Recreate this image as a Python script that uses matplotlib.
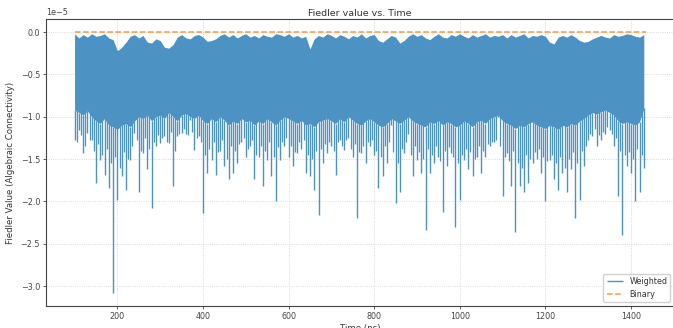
import numpy as np
from matplotlib import pyplot as plt

# Data (Fiedler values, in units of 1e-5) -----------------------------------------------------------------------------

time_ns = np.arange(100, 1440, 10)

# upper edge of the dense band
weighted_top = [
    -0.02, -0.07, -0.03, -0.06, -0.02, -0.05, -0.04, -0.02, -0.07, -0.09,
    -0.22, -0.18, -0.12, -0.05, -0.03, -0.07, -0.04, -0.12, -0.13, -0.08,
    -0.10, -0.18, -0.19, -0.15, -0.06, -0.03, -0.07, -0.08, -0.04, -0.03,
    -0.06, -0.11, -0.10, -0.08, -0.04, -0.02, -0.06, -0.03, -0.07, -0.04,
    -0.02, -0.06, -0.04, -0.07, -0.03, -0.05, -0.06, -0.02, -0.03, -0.05,
    -0.02, -0.06, -0.04, -0.07, -0.05, -0.20, -0.08, -0.04, -0.06, -0.02,
    -0.04, -0.07, -0.03, -0.05, -0.08, -0.04, -0.06, -0.02, -0.07, -0.04,
    -0.03, -0.10, -0.12, -0.08, -0.04, -0.06, -0.13, -0.10, -0.05, -0.02,
    -0.05, -0.03, -0.07, -0.09, -0.05, -0.02, -0.06, -0.07, -0.03, -0.05,
    -0.02, -0.05, -0.07, -0.03, -0.06, -0.04, -0.02, -0.06, -0.04, -0.05,
    -0.03, -0.07, -0.03, -0.06, -0.04, -0.02, -0.07, -0.04, -0.05, -0.03,
    -0.05, -0.12, -0.14, -0.06, -0.04, -0.06, -0.03, -0.06, -0.10, -0.12,
    -0.11, -0.08, -0.06, -0.04, -0.06, -0.07, -0.03, -0.05, -0.04, -0.02,
    -0.03, -0.05, -0.06, -0.03,
]

# lower edge of the dense band
weighted_body = [
    -0.92, -0.95, -0.98, -0.93, -1.00, -1.05, -1.08, -1.02, -1.10, -1.12,
    -1.15, -1.10, -1.08, -1.12, -1.05, -1.00, -1.02, -0.98, -1.05, -1.00,
    -0.98, -1.02, -0.95, -1.00, -1.05, -0.98, -0.96, -1.00, -1.02, -0.98,
    -1.05, -1.08, -1.02, -1.06, -1.00, -1.04, -1.10, -1.05, -1.08, -1.02,
    -1.06, -1.04, -1.10, -1.05, -1.08, -1.02, -1.06, -1.10, -1.04, -1.00,
    -1.02, -1.05, -1.08, -1.04, -1.10, -1.08, -1.12, -1.06, -1.04, -1.02,
    -1.05, -1.08, -1.02, -1.06, -1.00, -1.04, -1.08, -1.10, -1.05, -1.02,
    -1.06, -1.10, -1.12, -1.08, -1.02, -1.05, -1.08, -1.04, -1.00, -1.05,
    -1.08, -1.10, -1.12, -1.06, -1.08, -1.04, -1.10, -1.06, -1.08, -1.12,
    -1.10, -1.05, -1.08, -1.12, -1.06, -1.04, -1.08, -1.02, -1.00, -0.98,
    -1.05, -1.08, -1.10, -1.14, -1.10, -1.12, -1.08, -1.06, -1.10, -1.12,
    -1.14, -1.10, -1.12, -1.15, -1.10, -1.12, -1.08, -1.10, -1.05, -1.02,
    -0.98, -0.95, -0.97, -0.94, -0.92, -0.95, -0.98, -1.05, -1.08, -1.06,
    -1.08, -1.10, -1.06, -0.90,
]

# deepest dip inside each 10 ns window
weighted_spikes = [
    -1.27, -1.16, -1.43, -1.19, -1.27, -1.78, -1.51, -1.69, -1.84, -3.08,
    -1.98, -1.70, -1.86, -1.51, -1.19, -1.89, -1.43, -1.62, -2.08, -1.35,
    -1.31, -1.23, -1.31, -1.82, -1.23, -1.19, -1.20, -1.04, -1.39, -1.23,
    -2.14, -1.66, -1.51, -1.69, -1.40, -1.58, -1.74, -1.66, -1.55, -1.30,
    -1.47, -1.35, -1.74, -1.47, -1.82, -1.51, -1.70, -2.00, -1.51, -1.35,
    -1.47, -1.58, -1.43, -1.38, -1.66, -1.70, -1.86, -2.16, -1.55, -1.43,
    -1.35, -1.69, -1.27, -1.39, -1.25, -1.47, -2.19, -1.43, -1.55, -1.35,
    -1.45, -1.84, -1.70, -1.55, -1.10, -2.02, -1.89, -1.43, -1.20, -1.70,
    -1.51, -1.66, -2.34, -1.66, -1.55, -1.47, -2.12, -1.58, -1.43, -2.30,
    -1.98, -1.51, -1.62, -1.70, -1.47, -1.66, -1.47, -1.35, -1.30, -1.00,
    -1.93, -1.43, -1.82, -2.36, -1.82, -1.89, -1.78, -1.55, -1.50, -1.66,
    -2.00, -1.51, -1.74, -1.86, -1.66, -1.89, -1.62, -2.19, -1.98, -1.58,
    -1.27, -1.23, -1.35, -1.28, -1.20, -1.16, -1.35, -1.93, -2.40, -1.58,
    -1.66, -2.00, -1.89, -1.60,
]

# smaller dips half way between the windows (105, 115, ... 1425 ns)
minor_time_ns = np.arange(105, 1430, 10)
weighted_minor_dips = [
    -1.30, -1.22, -1.35, -1.28, -1.40, -1.32, -1.45, -1.38, -1.55, -1.48,
    -1.60, -1.42, -1.50, -1.35, -1.28, -1.40, -1.25, -1.38, -1.30, -1.22,
    -1.25, -1.30, -1.18, -1.40, -1.20, -1.15, -1.22, -1.18, -1.25, -1.30,
    -1.45, -1.38, -1.30, -1.42, -1.28, -1.50, -1.35, -1.40, -1.32, -1.25,
    -1.38, -1.28, -1.45, -1.35, -1.40, -1.30, -1.48, -1.36, -1.30, -1.25,
    -1.35, -1.42, -1.30, -1.28, -1.45, -1.50, -1.40, -1.38, -1.32, -1.30,
    -1.40, -1.30, -1.35, -1.28, -1.38, -1.32, -1.42, -1.35, -1.30, -1.28,
    -1.40, -1.48, -1.35, -1.30, -1.42, -1.55, -1.38, -1.30, -1.45, -1.35,
    -1.42, -1.50, -1.38, -1.45, -1.35, -1.52, -1.40, -1.36, -1.48, -1.55,
    -1.45, -1.38, -1.42, -1.50, -1.35, -1.40, -1.32, -1.30, -1.28, -1.35,
    -1.48, -1.52, -1.40, -1.55, -1.60, -1.45, -1.50, -1.42, -1.38, -1.48,
    -1.52, -1.45, -1.55, -1.48, -1.60, -1.50, -1.42, -1.55, -1.40, -1.35,
    -1.20, -1.15, -1.22, -1.18, -1.12, -1.20, -1.25, -1.40, -1.45, -1.42,
    -1.50, -1.38, -1.45,
]

binary_time_ns = [100, 1435]
binary_fiedler = [0.0, 0.0]

SCALE = 1e-5

# tab:blue at alpha 0.8 on white, drawn opaque so overlaps stay even
WEIGHTED_COLOR = '#4c92c3'


def print_fiedler_plot():
    plt.rcParams['font.family'] = 'DejaVu Sans'
    plt.rcParams['text.color'] = '#333333'
    plt.rcParams['axes.labelcolor'] = '#333333'
    plt.rcParams['xtick.color'] = '#444444'
    plt.rcParams['ytick.color'] = '#444444'

    fig = plt.figure(figsize=(6.73, 3.28), dpi=100)
    ax = fig.add_axes([46 / 673, 22 / 328, 628.5 / 673, 287 / 328])

    top = np.array(weighted_top) * SCALE
    body = np.array(weighted_body) * SCALE
    spikes = np.array(weighted_spikes) * SCALE
    minor = np.array(weighted_minor_dips) * SCALE

    # Weighted: dense band plus the dips below it
    ax.fill_between(time_ns, body, top, color=WEIGHTED_COLOR, linewidth=0)
    ax.vlines(minor_time_ns, -0.6 * SCALE, minor, color=WEIGHTED_COLOR, linewidth=0.9)
    ax.vlines(time_ns, body, spikes, color=WEIGHTED_COLOR, linewidth=1.0, label='Weighted')

    # Binary
    ax.plot(binary_time_ns, np.array(binary_fiedler) * SCALE, linestyle='--', color='#ff7f0e',
            alpha=0.8, linewidth=1.1, label='Binary')

    ax.grid(True, color='#cccccc', linestyle=':', linewidth=0.6)
    ax.set_axisbelow(True)

    for spine in ax.spines.values():
        spine.set_color('#444444')
        spine.set_linewidth(0.8)

    ax.tick_params(axis='both', labelsize=5.8, length=2, width=0.6, pad=2.3)
    ax.yaxis.get_offset_text().set_fontsize(5.8)

    ax.set_title('Fiedler value vs. Time', fontsize=6.8, pad=2.5)
    ax.set_xlabel('Time (ns)', fontsize=6.2, labelpad=2.5)
    ax.set_ylabel('Fiedler Value (Algebraic Connectivity)', fontsize=6.2, labelpad=4)

    ax.legend(loc='lower right', fontsize=5.8, framealpha=0.9, edgecolor='#cccccc')

    plt.savefig('out.png', dpi=100)


# Execution ------------------------------------------------------------------------------------------------------------

print_fiedler_plot()
